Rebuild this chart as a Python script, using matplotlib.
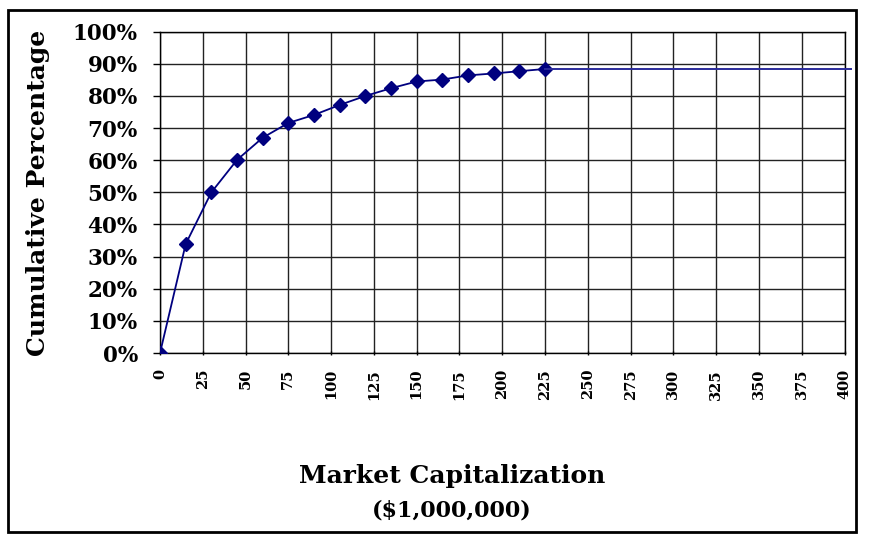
import matplotlib.pyplot as plt
from matplotlib.patches import Rectangle
from matplotlib.ticker import FuncFormatter

# market capitalization ($1,000,000) and cumulative percentage
market_cap = [0, 15, 30, 45, 60, 75, 90, 105, 120, 135, 150, 165, 180, 195, 210, 225]
cum_pct = [0, 33.9, 50.0, 60.1, 67.0, 71.6, 74.1, 77.2, 80.0, 82.4, 84.5, 85.1, 86.4, 87.0, 87.7, 88.4]
tail_end = 404  # flat line runs on past the last tick

x_ticks = list(range(0, 401, 25))
y_ticks = list(range(0, 101, 10))

navy = "#00007f"
serif = "DejaVu Serif"

fig = plt.figure(figsize=(8.72, 5.51), dpi=100)
ax = fig.add_axes([0.1835, 0.3593, 0.785, 0.5832])

ax.plot(market_cap, cum_pct, color=navy, lw=1.3, marker="D", ms=7,
        markerfacecolor=navy, markeredgecolor=navy, zorder=3)
ax.plot([market_cap[-1], tail_end], [cum_pct[-1], cum_pct[-1]],
        color="#2a2a9a", lw=1.4, clip_on=False, zorder=3)

ax.set_xlim(0, 400)
ax.set_ylim(0, 100)
ax.set_xticks(x_ticks)
ax.set_yticks(y_ticks)
ax.yaxis.set_major_formatter(FuncFormatter(lambda v, p: f"{v:.0f}%"))
ax.grid(True, color="#222222", lw=1.0)
ax.set_axisbelow(True)
for s in ax.spines.values():
    s.set_color("black")
    s.set_linewidth(1.0)
ax.tick_params(axis="y", length=5, width=1, pad=11)
ax.tick_params(axis="x", length=3, width=1, direction="inout", pad=10)

for lbl in ax.get_yticklabels():
    lbl.set_fontfamily(serif)
    lbl.set_fontweight("bold")
    lbl.set_fontsize(15.5)
for lbl in ax.get_xticklabels():
    lbl.set_fontfamily(serif)
    lbl.set_fontweight("bold")
    lbl.set_fontsize(10.5)
    lbl.set_rotation(90)

fig.text(0.044, 0.650, "Cumulative Percentage", rotation=90, ha="center", va="center",
         fontfamily=serif, fontweight="bold", fontsize=18)
fig.text(0.518, 0.136, "Market Capitalization", ha="center", va="center",
         fontfamily=serif, fontweight="bold", fontsize=18)
fig.text(0.518, 0.074, "($1,000,000)", ha="center", va="center",
         fontfamily=serif, fontweight="bold", fontsize=16)

# outer frame around the whole chart
fig.patches.append(Rectangle((0.0092, 0.0345), 0.9725, 0.947, transform=fig.transFigure,
                             fill=False, edgecolor="black", lw=2))

fig.savefig("out.png", dpi=100)
